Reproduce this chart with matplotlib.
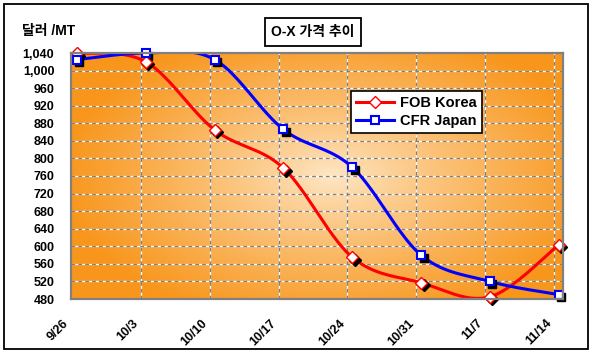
import numpy as np
import matplotlib
matplotlib.use("Agg")
import matplotlib.pyplot as plt
import matplotlib.transforms as mtransforms
from matplotlib.patches import Rectangle
from matplotlib.lines import Line2D

plt.rcParams['font.family'] = ['Liberation Sans', 'Noto Sans CJK KR', 'DejaVu Sans']

# ---- data ----
dates = ["9/26", "10/3", "10/10", "10/17", "10/24", "10/31", "11/7", "11/14"]
fob_korea = [1040, 1020, 865, 778, 575, 517, 485, 603]
cfr_japan = [1025, 1040, 1025, 866, 780, 580, 520, 490]
yticks = list(range(480, 1041, 40))
title = "O-X 가격 추이"
ylabel = "달러 /MT"
series_names = ["FOB Korea", "CFR Japan"]


def smooth(xs, ys, n=40):
    xs = np.asarray(xs, float)
    ys = np.asarray(ys, float)
    P = np.column_stack([xs, ys])
    out = []
    m = len(P)
    for i in range(m - 1):
        p0 = P[i - 1] if i > 0 else P[i]
        p1 = P[i]
        p2 = P[i + 1]
        p3 = P[i + 2] if i + 2 < m else P[i + 1]
        c1 = p1 + (p2 - p0) / 6.0
        c2 = p2 - (p3 - p1) / 6.0
        t = np.linspace(0, 1, n)[:, None]
        seg = ((1 - t) ** 3) * p1 + 3 * ((1 - t) ** 2) * t * c1 + 3 * (1 - t) * t ** 2 * c2 + t ** 3 * p2
        if i > 0:
            seg = seg[1:]
        out.append(seg)
    arr = np.vstack(out)
    return arr[:, 0], arr[:, 1]


W, H = 594, 357
fig = plt.figure(figsize=(W / 100, H / 100), dpi=100)
fig.patch.set_facecolor("white")

# outer frame
fig.add_artist(Rectangle((4 / W, 1 - 349 / H), 584 / W, 345 / H, transform=fig.transFigure,
                         fill=False, edgecolor="black", linewidth=1.3))

left, right, top, bottom = 71, 563, 53, 299
ax = fig.add_axes([left / W, 1 - bottom / H, (right - left) / W, (bottom - top) / H])

x = np.arange(len(dates))
xmin, xmax = -0.087, 7.063
ymin, ymax = 480, 1040
ax.set_xlim(xmin, xmax)
ax.set_ylim(ymin, ymax)

# gradient background
gw, gh = 300, 160
gx = np.linspace(0, 1, gw)
gy = np.linspace(0, 1, gh)
GX, GY = np.meshgrid(gx, gy)
cx, cy = 0.53, 0.50
r = np.sqrt(((GX - cx) / 0.55) ** 2 + ((GY - cy) / 0.62) ** 2)
t = np.clip(r, 0, 1) ** 0.85
center = np.array([254, 232, 200]) / 255.0
edge = np.array([248, 150, 28]) / 255.0
img = center[None, None, :] + (edge - center)[None, None, :] * t[:, :, None]
ax.imshow(img, extent=(xmin, xmax, ymin, ymax), aspect="auto", zorder=0, origin="upper",
          interpolation="bilinear")

# grid lines
goff = -0.07
for yv in yticks[1:-1]:
    ax.axhline(yv, color="white", lw=0.9, zorder=1)
    ax.axhline(yv, color="#7f7f7f", lw=0.9, ls=(0, (3, 2.5)), zorder=1.1)
for i in range(1, len(dates)):
    ax.axvline(i + goff, color="white", lw=0.9, zorder=1)
    ax.axvline(i + goff, color="#7f7f7f", lw=0.9, ls=(0, (3, 2.5)), zorder=1.1)

# series
shadow = mtransforms.offset_copy(ax.transData, fig=fig, x=2.5, y=-2.5, units="dots")
sx, sy = smooth(x, fob_korea)
ax.plot(sx, sy, color="#ff0000", lw=2.2, zorder=3, solid_capstyle="butt")
sx2, sy2 = smooth(x, cfr_japan)
ax.plot(sx2, sy2, color="#0000ff", lw=2.2, zorder=3, solid_capstyle="butt")

ms_d, ms_s = 6.0, 5.5
ax.plot(x, fob_korea, ls="none", marker="D", ms=ms_d, mfc="black", mec="black", transform=shadow,
        zorder=4, clip_on=False)
ax.plot(x, cfr_japan, ls="none", marker="s", ms=ms_s, mfc="black", mec="black", transform=shadow,
        zorder=4, clip_on=False)
ax.plot(x, fob_korea, ls="none", marker="D", ms=ms_d, mfc="white", mec="#ff0000", mew=1.0,
        zorder=5, clip_on=False)
ax.plot(x, cfr_japan, ls="none", marker="s", ms=ms_s, mfc="white", mec="#0000ff", mew=1.5,
        zorder=5, clip_on=False)

# axes styling
for s in ax.spines.values():
    s.set_color("#808080")
    s.set_linewidth(1.6)
    s.set_zorder(6)

ax.set_yticks(yticks)
ax.set_yticklabels([f"{v:,}" for v in yticks], fontsize=9, fontweight="bold")
xt = [xmin] + [i + goff for i in range(1, len(dates))]
ax.set_xticks(xt)
ax.set_xticklabels(dates, fontsize=9, fontweight="bold", rotation=45, ha="right", va="top")
ax.tick_params(axis="y", length=0, pad=12)
ax.tick_params(axis="x", length=0, pad=13)

# y label
fig.text(22 / W, 1 - 31 / H, ylabel, fontsize=10, fontweight="bold", ha="left", va="center")

# title box
fig.add_artist(Rectangle((265 / W, 1 - 46 / H), 96 / W, 28 / H, transform=fig.transFigure,
                         facecolor="white", edgecolor="black", linewidth=1.3))
fig.text(313 / W, 1 - 32 / H, title, fontsize=10, fontweight="bold", ha="center", va="center")

# legend
h1 = Line2D([], [], color="#ff0000", lw=2.2, marker="D", ms=ms_d, mfc="white", mec="#ff0000")
h2 = Line2D([], [], color="#0000ff", lw=2.2, marker="s", ms=ms_s, mfc="white", mec="#0000ff", mew=1.5)
leg = fig.legend([h1, h2], series_names, loc="upper left", bbox_to_anchor=(351 / W, 1 - 91 / H),
                 borderaxespad=0, fancybox=False, edgecolor="black", framealpha=1, handlelength=2.6,
                 borderpad=0.35, labelspacing=0.25, handletextpad=0.4,
                 prop={"weight": "bold", "size": 10.5})
leg.get_frame().set_linewidth(1.2)

fig.savefig("out.png", dpi=100, facecolor="white")
